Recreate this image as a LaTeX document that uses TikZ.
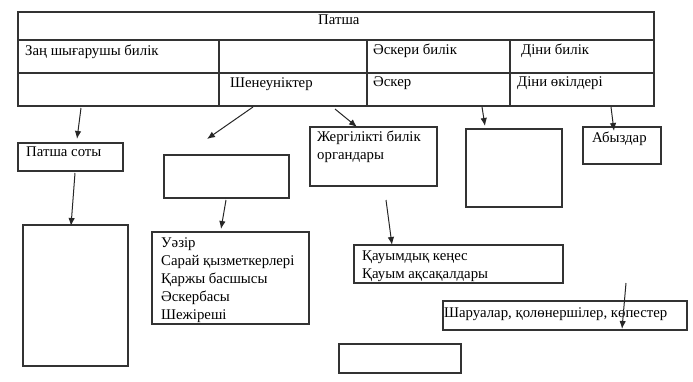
\documentclass[tikz,border=0pt]{standalone}
\usepackage{fontspec}
\setmainfont{Liberation Serif}
\usetikzlibrary{arrows.meta}

\begin{document}
\begin{tikzpicture}[x=1pt,y=-1pt,
  line/.style={draw=black!80, line width=1.1pt},
  txt/.style={font=\fontsize{14.8}{18}\selectfont, inner sep=0pt, anchor=base west, align=left},
  arr/.style={draw=black!85, line width=1pt, -{Latex[length=8pt,width=6.5pt]}}]
\useasboundingbox (0,0) rectangle (693,382);
\draw[line] (18,12) rectangle (654,106);
\draw[line] (18,40)--(654,40);
\draw[line] (18,73)--(654,73);
\foreach \x in {219,367,510} \draw[line] (\x,40)--(\x,106);
\node[txt] (patsha) at (318,25) {Патша};
\node[txt] (zan) at (25,56) {Заң шығарушы билік};
\node[txt] (askeribilik) at (373,55) {Әскери билік};
\node[txt] (dinibilik) at (521,55) {Діни билік};
\node[txt] (sheneu) at (230,88) {Шенеуніктер};
\node[txt] (asker) at (373,87) {Әскер};
\node[txt] (diniokil) at (517,87) {Діни өкілдері};
\draw[line] (18,143) rectangle (123,171);
\node[txt] (sotytext) at (26,157) {Патша соты};
\draw[line] (164,155) rectangle (289,198);
\draw[line] (310,127) rectangle (437,186);
\node[txt] (zhergtext) at (317,160) {Жергілікті билік\\органдары};
\draw[line] (466,129) rectangle (562,207);
\draw[line] (583,127) rectangle (661,164);
\node[txt] (abyztext) at (592,143) {Абыздар};
\draw[line] (23,225) rectangle (128,366);
\draw[line] (152,232) rectangle (309,324);
\node[txt] (uazirtext) at (161,319) {Уәзір\\Сарай қызметкерлері\\Қаржы басшысы\\Әскербасы\\Шежіреші};
\draw[line] (354,245) rectangle (563,283);
\node[txt] (kauymtext) at (362,278) {Қауымдық кеңес\\Қауым ақсақалдары};
\draw[line] (443,301) rectangle (687,330);
\node[txt] (sharutext) at (444,317) {Шаруалар, қолөнершілер, көпестер};
\draw[line] (339,344) rectangle (461,373);
\coordinate (s1) at (81,108); \coordinate (e1) at (77,139);
\coordinate (s2) at (253,107); \coordinate (e2) at (207,139);
\coordinate (s3) at (335,109); \coordinate (e3) at (357,127);
\coordinate (s4) at (482,107); \coordinate (e4) at (485,126);
\coordinate (s5) at (611,107); \coordinate (e5) at (614,131);
\coordinate (s6) at (75,173); \coordinate (e6) at (71,226);
\coordinate (s7) at (226,200); \coordinate (e7) at (221,229);
\coordinate (s8) at (386,200); \coordinate (e8) at (392,245);
\coordinate (s9) at (626,283); \coordinate (e9) at (622,329);
\foreach \i in {1,...,9} \draw[arr] (s\i)--(e\i);
\end{tikzpicture}
\end{document}
